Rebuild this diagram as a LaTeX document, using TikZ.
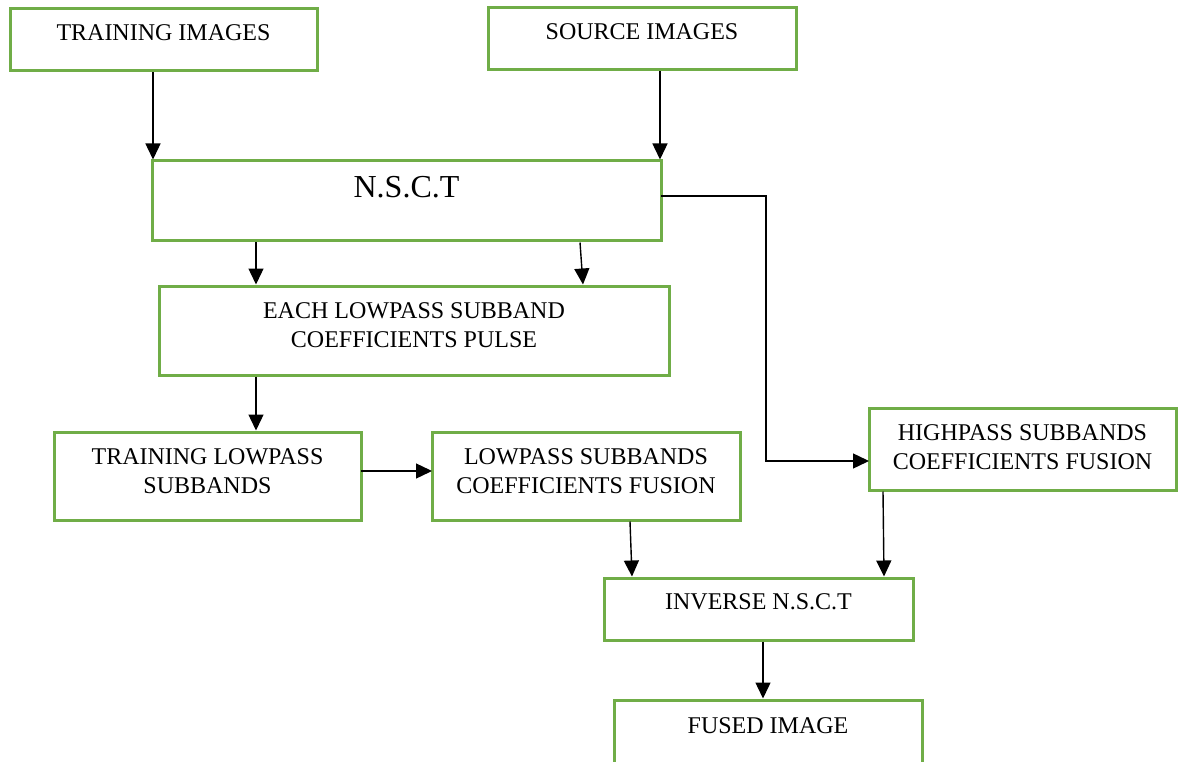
\documentclass[tikz,border=0pt]{standalone}
\usepackage{fontspec}
\setmainfont{Liberation Serif}
\usetikzlibrary{arrows.meta}
\definecolor{boxgreen}{RGB}{112,173,71}
\tikzset{
  box/.style={draw=boxgreen, line width=3pt, rectangle, inner sep=0pt, outer xsep=0pt, outer ysep=1.5pt, fill=white},
  txt/.style={inner sep=0pt, align=center, font=\fontsize{24}{29}\selectfont},
  arr/.style={draw=black, line width=1.4pt, -{Triangle[length=16pt,width=15pt]}}
}
\begin{document}
\begin{tikzpicture}[x=1pt,y=-1pt]
\useasboundingbox (0,0) rectangle (1178,762);
\clip (0,0) rectangle (1178,762);
% boxes
\node[box, minimum width=307pt, minimum height=62pt] (ti) at (163.5,40) {};
\node[box, minimum width=308pt, minimum height=62pt] (si) at (642,39) {};
\node[box, minimum width=509pt, minimum height=80pt] (nsct) at (406.5,201) {};
\node[box, minimum width=510pt, minimum height=89pt] (el) at (414,330.5) {};
\node[box, minimum width=307pt, minimum height=88pt] (tl) at (207.5,476) {};
\node[box, minimum width=308pt, minimum height=88pt] (lf) at (586,476) {};
\node[box, minimum width=307pt, minimum height=82pt] (hp) at (1022.5,449) {};
\node[box, minimum width=309pt, minimum height=62pt] (inv) at (758.5,609) {};
\node[box, minimum width=308pt, minimum height=90pt] (fu) at (768,745) {};
% texts
\node[txt, anchor=base] (tit) at (163.5,41) {TRAINING IMAGES};
\node[txt, anchor=base] (sit) at (642,40) {SOURCE IMAGES};
\node[txt, anchor=base, font=\fontsize{32}{36}\selectfont] (nsctt) at (406.5,198) {N.S.C.T};
\node[txt, anchor=north] (elt) at (414,302.3) {EACH LOWPASS SUBBAND\\COEFFICIENTS PULSE};
\node[txt, anchor=north] (tlt) at (207.5,448.3) {TRAINING LOWPASS\\SUBBANDS};
\node[txt, anchor=north] (lft) at (586,448.3) {LOWPASS SUBBANDS\\COEFFICIENTS FUSION};
\node[txt, anchor=north] (hpt) at (1022.5,424.3) {HIGHPASS SUBBANDS\\COEFFICIENTS FUSION};
\node[txt, anchor=base] (invt) at (758.5,609) {INVERSE N.S.C.T};
\node[txt, anchor=base] (fut) at (768,733) {FUSED IMAGE};
% connectors
\draw[arr] ([xshift=-10.5pt]ti.south) -- ([xshift=1pt]nsct.north west);
\draw[arr] ([xshift=18pt]si.south) -- ([xshift=-1pt]nsct.north east);
\draw[arr] ([xshift=104pt]nsct.south west) -- ([xshift=97pt]el.north west);
\draw[arr] ([xshift=428pt]nsct.south west) -- ([xshift=424pt]el.north west);
\draw[arr] ([yshift=5pt]nsct.east) -- ++(105,0) |- ([yshift=-12pt]hp.west);
\draw[arr] ([xshift=97pt]el.south west) -- ([xshift=202pt]tl.north west);
\draw[arr] ([yshift=5pt]tl.east) -- ([yshift=5pt]lf.west);
\draw[arr] ([xshift=198pt]lf.south west) -- ([xshift=28pt]inv.north west);
\draw[arr] ([xshift=14pt]hp.south west) -- ([xshift=280pt]inv.north west);
\draw[arr] ([xshift=4.5pt]inv.south) -- ([xshift=149pt]fu.north west);
\end{tikzpicture}
\end{document}
